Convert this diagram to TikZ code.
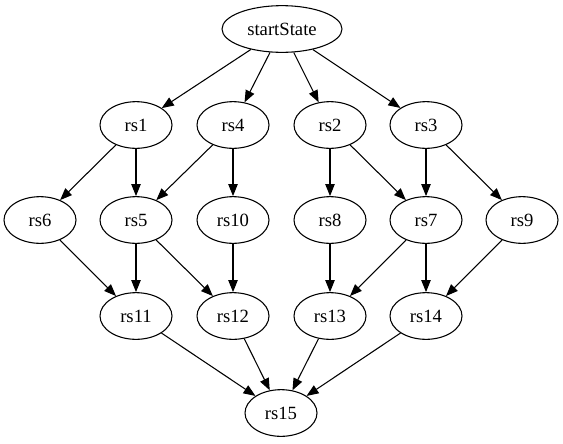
\documentclass[tikz,border=0pt]{standalone}
\usepackage{fontspec}
\setmainfont{Liberation Serif}
\usetikzlibrary{shapes.geometric,arrows.meta,positioning}

\begin{document}
\begin{tikzpicture}[
    x=0.75pt, y=-0.75pt,
    state/.style={ellipse, draw=black, line width=0.8pt, minimum width=54pt,
                  minimum height=35pt, inner sep=1pt, font=\fontsize{14}{16}\selectfont},
    widestate/.style={state, minimum width=90pt},
    arrow/.style={-{Triangle[length=9pt,width=7pt]}, line width=0.8pt}
]
\fill[white] (0,0) rectangle (563,443);
\useasboundingbox (0,0) rectangle (563,443);
% top
\node[widestate] (start) at (282,29) {startState};
% first rank
\node[state] (rs1) at (136,125) {rs1};
\node[state] (rs4) at (233,125) {rs4};
\node[state] (rs2) at (330,125) {rs2};
\node[state] (rs3) at (426,125) {rs3};
% second rank
\node[state] (rs6) at (40,220) {rs6};
\node[state] (rs5) at (136,220) {rs5};
\node[state] (rs10) at (233,220) {rs10};
\node[state] (rs8) at (330,220) {rs8};
\node[state] (rs7) at (426,220) {rs7};
\node[state] (rs9) at (522,220) {rs9};
% third rank
\node[state] (rs11) at (136,316) {rs11};
\node[state] (rs12) at (233,316) {rs12};
\node[state] (rs13) at (330,316) {rs13};
\node[state] (rs14) at (426,316) {rs14};
% bottom
\node[state] (rs15) at (281,413) {rs15};
% edges
\draw[arrow] (start) -- (rs1);
\draw[arrow] (start) -- (rs4);
\draw[arrow] (start) -- (rs2);
\draw[arrow] (start) -- (rs3);
\draw[arrow] (rs1) -- (rs6);
\draw[arrow] (rs1) -- (rs5);
\draw[arrow] (rs4) -- (rs5);
\draw[arrow] (rs4) -- (rs10);
\draw[arrow] (rs2) -- (rs8);
\draw[arrow] (rs2) -- (rs7);
\draw[arrow] (rs3) -- (rs7);
\draw[arrow] (rs3) -- (rs9);
\draw[arrow] (rs6) -- (rs11);
\draw[arrow] (rs5) -- (rs11);
\draw[arrow] (rs5) -- (rs12);
\draw[arrow] (rs10) -- (rs12);
\draw[arrow] (rs8) -- (rs13);
\draw[arrow] (rs7) -- (rs13);
\draw[arrow] (rs7) -- (rs14);
\draw[arrow] (rs9) -- (rs14);
\draw[arrow] (rs11) -- (rs15);
\draw[arrow] (rs12) -- (rs15);
\draw[arrow] (rs13) -- (rs15);
\draw[arrow] (rs14) -- (rs15);
\end{tikzpicture}
\end{document}
